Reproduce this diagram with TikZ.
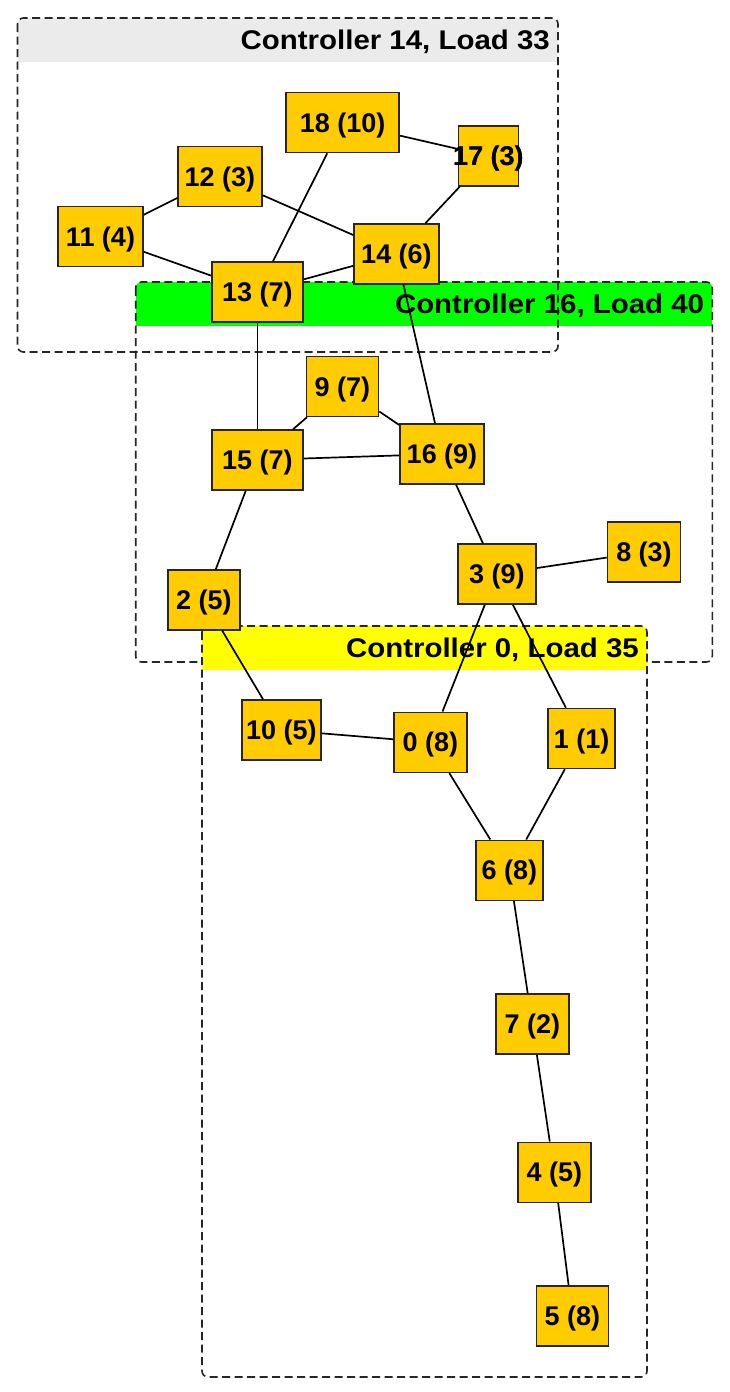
\documentclass[tikz,border=0pt]{standalone}
\usepackage{fontspec}
\setmainfont{Liberation Sans}
\newfontfamily\clfont{Liberation Sans}[FakeStretch=1.09]
\definecolor{gold}{HTML}{FFCC00}
\definecolor{bandgray}{HTML}{EBEBEB}
\definecolor{bandgreen}{HTML}{00FF00}
\definecolor{bandyellow}{HTML}{FFFF00}
\newcommand\nlab[1]{\makebox[0pt]{#1}}
\tikzset{
  nd/.style={draw=black!85, fill=gold, line width=1.6pt, minimum height=60pt,
    inner sep=0pt, text height=19.3pt, text depth=0pt,
    font=\fontsize{27}{30}\selectfont\bfseries},
  edge/.style={line width=1.7pt, black},
  clborder/.style={dash pattern=on 8pt off 4.5pt, line width=1.6pt, rounded corners=6pt, black!85},
  cllabel/.style={anchor=base east, inner sep=0pt, font=\clfont\fontsize{27}{30}\selectfont\bfseries}
}
\newcommand\cluster[7]{% name, x1,y1,x2,y2,color,label
  \begin{scope}
    \clip[rounded corners=6pt] (#2,#3) rectangle (#4,#5);
    \fill[#6] (#2,#3) rectangle (#4,#3+44);
  \end{scope}
  \draw[clborder] (#2,#3) rectangle (#4,#5);
  \node[cllabel] (#1) at (#4-8,#3+31) {#7};
}
\begin{document}
\begin{tikzpicture}[x=1pt,y=-1pt]
\useasboundingbox (0,0) rectangle (730,1392);
\fill[white] (0,0) rectangle (730,1392);
% clusters
\cluster{c16}{135.7}{282}{712.3}{662}{bandgreen}{Controller 16, Load 40}
\cluster{c14}{17.5}{18}{558}{352}{bandgray}{Controller 14, Load 33}
\cluster{c0}{202}{626}{647}{1377}{bandyellow}{Controller 0, Load 35}
% nodes
\node[nd, minimum width=113pt] (n18) at (342.7,122.5) {\nlab{18 (10)}};
\node[nd, minimum width=60pt] (n17) at (488.5,156) {\nlab{17 (3)}};
\node[nd, minimum width=84pt] (n12) at (220,176.5) {\nlab{12 (3)}};
\node[nd, minimum width=85pt] (n11) at (100.5,236.5) {\nlab{11 (4)}};
\node[nd, minimum width=91pt] (n13) at (257.5,292) {\nlab{13 (7)}};
\node[nd, minimum width=85pt] (n14) at (396.5,254) {\nlab{14 (6)}};
\node[nd, minimum width=72pt] (n9) at (342.5,386.5) {\nlab{9 (7)}};
\node[nd, minimum width=91pt] (n15) at (257.5,460) {\nlab{15 (7)}};
\node[nd, minimum width=84pt] (n16) at (442,454) {\nlab{16 (9)}};
\node[nd, minimum width=72pt] (n2) at (204,600) {\nlab{2 (5)}};
\node[nd, minimum width=78pt] (n3) at (497,574) {\nlab{3 (9)}};
\node[nd, minimum width=73pt] (n8) at (644,552) {\nlab{8 (3)}};
\node[nd, minimum width=79pt] (n10) at (281.3,730) {\nlab{10 (5)}};
\node[nd, minimum width=73pt] (n0) at (430.3,742.3) {\nlab{0 (8)}};
\node[nd, minimum width=67pt] (n1) at (581.7,738.5) {\nlab{1 (1)}};
\node[nd, minimum width=67pt] (n6) at (509.3,870.3) {\nlab{6 (8)}};
\node[nd, minimum width=73pt] (n7) at (532.3,1024) {\nlab{7 (2)}};
\node[nd, minimum width=73pt] (n4) at (554.3,1172.3) {\nlab{4 (5)}};
\node[nd, minimum width=72pt] (n5) at (572.5,1316) {\nlab{5 (8)}};
% edges
\draw[edge] (n18) -- (n17);
\draw[edge] (n12) -- (n11);
\draw[edge] (n12) -- (n14);
\draw[edge] (n11) -- (n13);
\draw[edge] (n13) -- (n18);
\draw[edge] (n13) -- (n14);
\draw[edge] (n14) -- (n17);
\draw[edge] (n13) -- (n15);
\draw[edge] (n14) -- (n16);
\draw[edge] (n9) -- (n15);
\draw[edge] (n9) -- (n16);
\draw[edge] (n15) -- (n16);
\draw[edge] (n15) -- (n2);
\draw[edge] (n16) -- (n3);
\draw[edge] (n3) -- (n8);
\draw[edge] (n3) -- (n0);
\draw[edge] (n3) -- (n1);
\draw[edge] (n2) -- (n10);
\draw[edge] (n10) -- (n0);
\draw[edge] (n0) -- (n6);
\draw[edge] (n1) -- (n6);
\draw[edge] (n6) -- (n7);
\draw[edge] (n7) -- (n4);
\draw[edge] (n4) -- (n5);
% 17 label drawn over its edge
\node[font=\fontsize{27}{30}\selectfont\bfseries, inner sep=0pt, text height=19.3pt, text depth=0pt] (t17) at (n17.center) {\nlab{17 (3)}};
\end{tikzpicture}
\end{document}
